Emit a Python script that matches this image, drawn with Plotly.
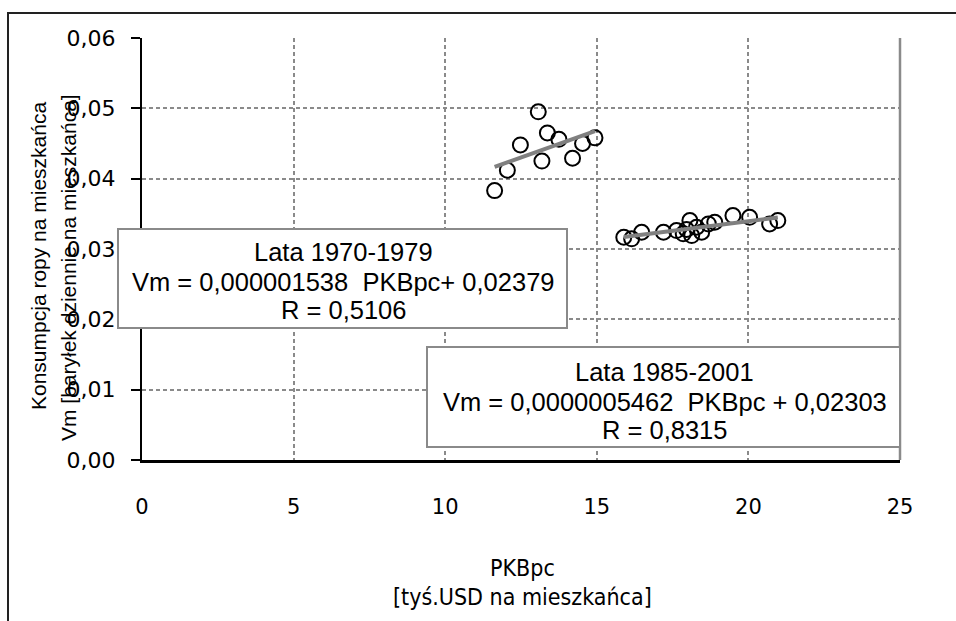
import plotly.graph_objects as go

# ---- data ----
# Lata 1970-1979
pkb_7079 = [11.63, 12.05, 12.48, 13.07, 13.19, 13.37, 13.75, 14.20, 14.53, 14.94]
vm_7079 = [0.0383, 0.0412, 0.0448, 0.0495, 0.0425, 0.0465, 0.0456, 0.0429, 0.0450, 0.0458]
# Lata 1985-2001
pkb_8501 = [15.89, 16.15, 16.48, 17.20, 17.63, 17.85, 17.96, 18.07, 18.13, 18.29,
            18.46, 18.68, 18.89, 19.49, 20.04, 20.70, 20.97]
vm_8501 = [0.03167, 0.03145, 0.03238, 0.03238, 0.03262, 0.03216, 0.03277, 0.03404, 0.03191, 0.03309,
           0.03238, 0.03357, 0.03380, 0.03475, 0.03451, 0.03357, 0.03404]
# regression (slope per USD as printed, x in thousand USD)
fit_slope = [0.000001538, 0.0000005462]
fit_intercept = [0.02379, 0.02303]
fit_lines = [
    ["Lata 1970-1979", "Vm = 0,000001538 &nbsp;PKBpc+ 0,02379", "R = 0,5106"],
    ["Lata 1985-2001", "Vm = 0,0000005462 &nbsp;PKBpc + 0,02303", "R = 0,8315"],
]
x_ticks = [0, 5, 10, 15, 20, 25]
y_ticks = [0.00, 0.01, 0.02, 0.03, 0.04, 0.05, 0.06]
x_title_lines = ["PKBpc", "[tyś.USD na mieszkańca]"]
y_title_lines = ["Konsumpcja ropy na mieszkańca", "Vm [baryłek dziennie na mieszkańca]"]

W, H = 956, 621
L, R, T, B = 142, 56, 38, 161
PW, PH = W - L - R, H - T - B


def px_to_paper(px, py):
    return (px - L) / PW, (H - B - py) / PH


fig = go.Figure()
series = [(pkb_7079, vm_7079), (pkb_8501, vm_8501)]
for xs, ys in series:
    fig.add_trace(go.Scatter(
        x=xs, y=ys, mode="markers",
        marker=dict(symbol="circle-open", size=15, color="black", line=dict(width=2)),
        showlegend=False, hoverinfo="skip"))
for (xs, ys), a, b in zip(series, fit_intercept, fit_slope):
    x0, x1 = min(xs), max(xs)
    fig.add_trace(go.Scatter(
        x=[x0, x1], y=[a + b * 1000 * x0, a + b * 1000 * x1], mode="lines",
        line=dict(color="#808080", width=4), showlegend=False, hoverinfo="skip"))

grid = dict(showgrid=True, gridcolor="#8a8a8a", gridwidth=1.5, griddash="4px,3px", zeroline=False)
fig.update_xaxes(range=[0, 25], tickvals=x_ticks, ticktext=[str(v) for v in x_ticks],
                 showline=True, linecolor="black", linewidth=3, ticks="",
                 ticklabelstandoff=26,
                 tickfont=dict(family="DejaVu Sans", size=21, color="black"), **grid)
fig.update_yaxes(range=[0, 0.06], tickvals=y_ticks,
                 ticktext=[f"{v:.2f}".replace(".", ",") for v in y_ticks],
                 showline=True, linecolor="black", linewidth=2, ticks="outside", ticklen=9,
                 tickcolor="black", tickwidth=2, ticklabelstandoff=11,
                 tickfont=dict(family="DejaVu Sans", size=22, color="black"), **grid)

shapes = []
# right border of plot area
shapes.append(dict(type="line", xref="paper", yref="paper", x0=1, x1=1, y0=0, y1=1,
                   line=dict(color="#8a8a8a", width=2.5)))
# outer chart border (cropped on the right and bottom)
bx0, by1 = px_to_paper(8, 13)
shapes.append(dict(type="rect", xref="paper", yref="paper", x0=bx0, x1=1.5, y0=-1, y1=by1,
                   line=dict(color="#222222", width=2), fillcolor="rgba(0,0,0,0)"))
fig.update_layout(shapes=shapes)

annotations = []
boxes = [(118, 567, 229, 328), (427, 900, 347, 447)]
line_y = [(252, 281.5, 310), (372, 401.5, 430)]
for (x0, x1, y0, y1), lines, ys in zip(boxes, fit_lines, line_y):
    cx, cy = px_to_paper((x0 + x1) / 2, (y0 + y1) / 2)
    annotations.append(dict(
        xref="paper", yref="paper", x=cx, y=cy, xanchor="center", yanchor="middle",
        text="&nbsp;", showarrow=False, width=x1 - x0 - 2, height=y1 - y0 - 2,
        bgcolor="white", bordercolor="#8a8a8a", borderwidth=2, borderpad=0,
        font=dict(size=10)))
    for txt, ly in zip(lines, ys):
        lx, lyp = px_to_paper((x0 + x1) / 2 + 1, ly)
        annotations.append(dict(
            xref="paper", yref="paper", x=lx, y=lyp, xanchor="center", yanchor="middle",
            text=txt, showarrow=False,
            font=dict(family="Liberation Sans", size=25.5, color="black")))

for txt, ly in zip(x_title_lines, [568, 597]):
    ax, ay = px_to_paper(522, ly)
    annotations.append(dict(xref="paper", yref="paper", x=ax, y=ay, xanchor="center",
                            yanchor="middle", text=txt, showarrow=False,
                            font=dict(family="DejaVu Sans Condensed, DejaVu Sans", size=23,
                                      color="black")))
for txt, lx, ly in zip(y_title_lines, [38, 68], [256, 268]):
    tx, ty = px_to_paper(lx, ly)
    annotations.append(dict(xref="paper", yref="paper", x=tx, y=ty, xanchor="center",
                            yanchor="middle", text=txt, showarrow=False, textangle=-90,
                            font=dict(family="Liberation Sans", size=21, color="black")))

fig.update_layout(
    width=W, height=H, margin=dict(l=L, r=R, t=T, b=B),
    paper_bgcolor="white", plot_bgcolor="white",
    annotations=annotations,
)

fig.write_html("out.html")
